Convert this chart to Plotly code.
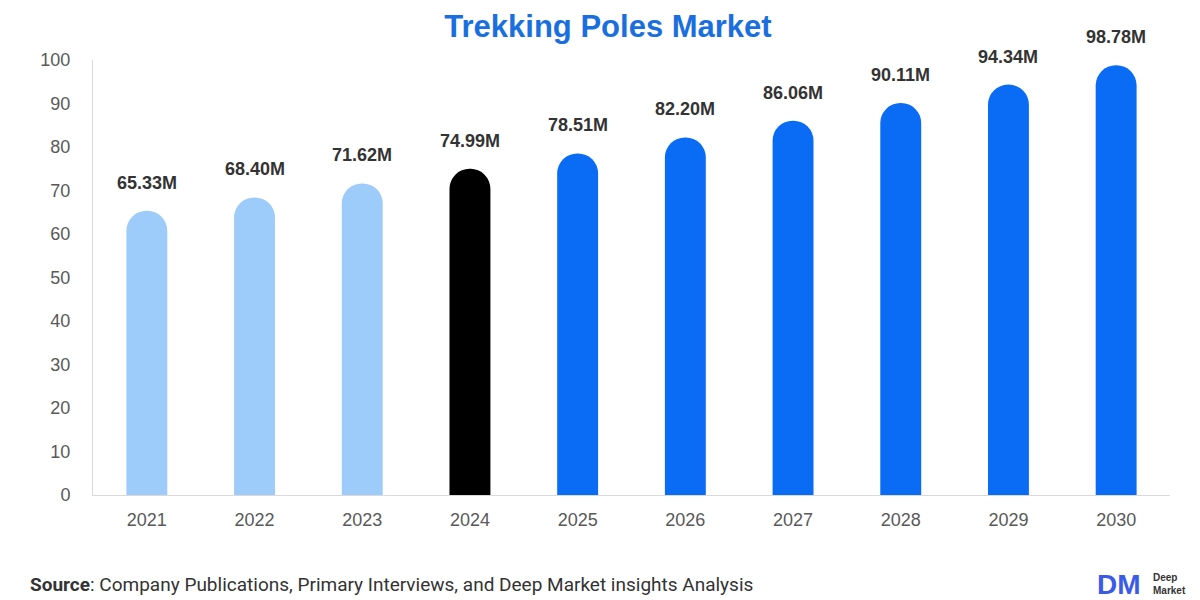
import plotly.graph_objects as go

years = ["2021", "2022", "2023", "2024", "2025", "2026", "2027", "2028", "2029", "2030"]
values = [65.33, 68.40, 71.62, 74.99, 78.51, 82.20, 86.06, 90.11, 94.34, 98.78]
labels = [f"{v:.2f}M" for v in values]
colors = ["#9dcbfa"] * 3 + ["#000000"] + ["#0a6cf5"] * 6

fig = go.Figure(go.Bar(
    x=years, y=values, width=0.38,
    marker=dict(color=colors, cornerradius=20, line_width=0),
))

# value labels sit a bit above each bar (x given as category index)
for i, (v, lab) in enumerate(zip(values, labels)):
    fig.add_annotation(x=i, y=v, text=f"<b>{lab}</b>", showarrow=False,
                       yanchor="bottom", yshift=16,
                       font=dict(family="Liberation Sans", size=18, color="#333333"))

fig.update_layout(
    width=1200, height=600,
    margin=dict(l=85, r=38, t=52, b=113),
    plot_bgcolor="white", paper_bgcolor="white",
    showlegend=False,
    title=dict(text="<b>Trekking Poles Market</b>", x=0.5, xanchor="center", y=0.97, yanchor="middle",
               font=dict(family="Liberation Sans", size=31, color="#1a6fe0")),
    font=dict(family="Liberation Sans", color="#555555"),
)
fig.update_yaxes(range=[0, 100], dtick=10, showgrid=False, zeroline=False,
                 showline=True, linecolor="#d9d9d9", ticks="", ticklabelstandoff=18,
                 tickfont=dict(size=18, color="#595959"))
fig.update_xaxes(type="category", range=[-0.5, 9.5], showline=True, linecolor="#d9d9d9", ticks="",
                 ticklabelstandoff=8, tickfont=dict(size=18, color="#595959"))

fig.add_annotation(text="<b>Source</b>: Company Publications, Primary Interviews, and Deep Market insights Analysis",
                   xref="paper", yref="paper", x=-0.06, y=-0.205, xanchor="left", yanchor="middle",
                   showarrow=False, font=dict(family="Roboto", size=19, color="#333333"))
fig.add_annotation(text="<b>DM</b>", xref="paper", yref="paper", x=0.93, y=-0.205,
                   xanchor="left", yanchor="middle", showarrow=False,
                   font=dict(family="Liberation Sans", size=28, color="#3a5be8"))
fig.add_annotation(text="<b>Deep<br>Market</b>", xref="paper", yref="paper", x=0.982, y=-0.205,
                   xanchor="left", yanchor="middle", showarrow=False, align="left",
                   font=dict(family="Liberation Sans", size=10, color="#333333"))

fig.write_html("out.html")
